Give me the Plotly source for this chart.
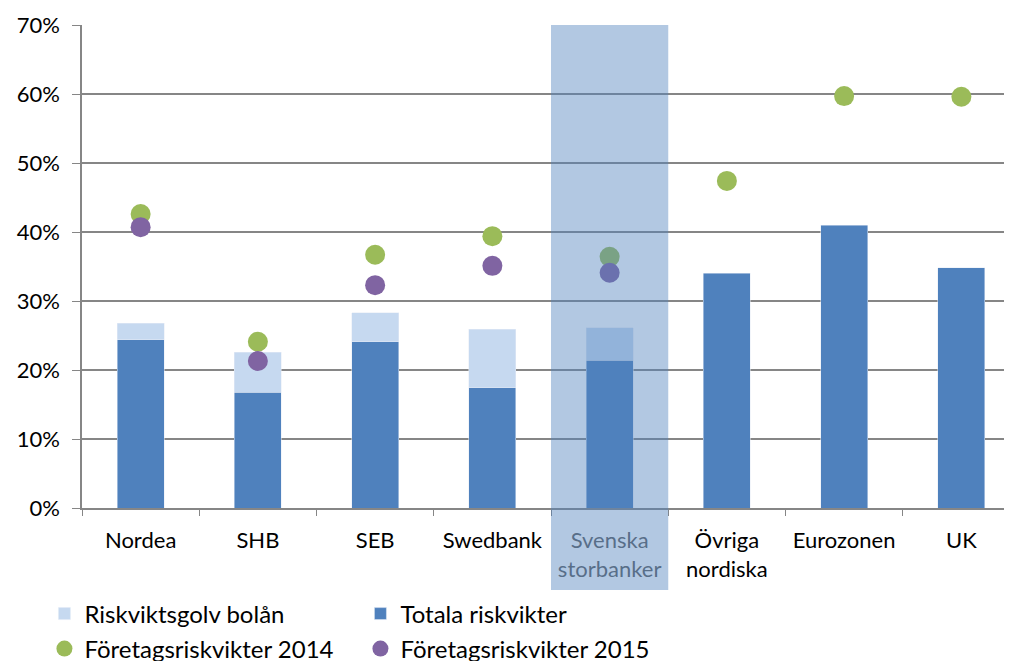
import plotly.graph_objects as go

categories = ["Nordea", "SHB", "SEB", "Swedbank", "Svenska storbanker",
              "Övriga nordiska", "Eurozonen", "UK"]
tick_labels = ["Nordea", "SHB", "SEB", "Swedbank",
               "<span style='color:#5f5f5f'>Svenska<br>storbanker</span>",
               "Övriga<br>nordiska", "Eurozonen", "UK"]

totala = [24.4, 16.8, 24.1, 17.4, 21.4, 34.0, 41.0, 34.8]
golv_topp = [26.8, 22.6, 28.3, 25.9, 26.1, None, None, None]
golv = [round(g - t, 1) if g is not None else None for g, t in zip(golv_topp, totala)]
foretag_2014 = [42.6, 24.1, 36.7, 39.4, 36.4, 47.4, 59.7, 59.6]
foretag_2015 = [40.7, 21.3, 32.3, 35.1, 34.1, None, None, None]

font = "Lato, 'Open Sans', sans-serif"

fig = go.Figure()
fig.add_trace(go.Bar(x=categories, y=totala, name="Totala riskvikter",
                     marker_color="#4f81bd", width=0.4, legend="legend",
                     legendrank=2))
fig.add_trace(go.Bar(x=categories, y=golv, name="Riskviktsgolv bolån",
                     marker_color="#c6d9f0", width=0.4, legend="legend",
                     legendrank=1))
fig.add_trace(go.Scatter(x=categories, y=foretag_2014, mode="markers",
                         name="Företagsriskvikter 2014", legend="legend2",
                         marker=dict(color="#9bbb59", size=20)))
fig.add_trace(go.Scatter(x=categories, y=foretag_2015, mode="markers",
                         name="Företagsriskvikter 2015", legend="legend2",
                         marker=dict(color="#8064a2", size=20)))

# markering av svenska storbanker
fig.add_shape(type="rect", xref="x", yref="paper", x0=3.5, x1=4.5,
              y0=-0.17, y1=1, fillcolor="rgba(79,129,189,0.44)",
              line_width=0, layer="above")

legend_style = dict(orientation="h", xanchor="left", yanchor="middle",
                    xref="container", yref="container", x=0.036,
                    entrywidth=271, traceorder="normal",
                    font=dict(size=24, color="black"),
                    bgcolor="rgba(0,0,0,0)", itemwidth=30)

fig.update_layout(
    width=1012, height=661,
    margin=dict(l=74, r=0, t=17, b=161, autoexpand=False),
    plot_bgcolor="white", paper_bgcolor="white",
    font=dict(family=font, color="black"),
    barmode="stack", bargap=0.6,
    legend=dict(legend_style, y=0.0832),
    legend2=dict(legend_style, y=0.0303),
    xaxis=dict(range=[-0.5, 7.5], tickvals=categories, ticktext=tick_labels,
               tickson="boundaries", ticks="outside", ticklen=6,
               tickcolor="#868686", showline=True, linecolor="#868686",
               linewidth=1.5, tickfont=dict(size=22), showgrid=False,
               ticklabelstandoff=12),
    yaxis=dict(range=[0, 70], dtick=10, ticksuffix="%", ticks="outside",
               ticklen=8, tickcolor="#868686", showline=True,
               linecolor="#868686", linewidth=1.5, gridcolor="#868686",
               gridwidth=1.5, tickfont=dict(size=22), zeroline=False,
               ticklabelstandoff=8),
)

fig.write_html("out.html")
